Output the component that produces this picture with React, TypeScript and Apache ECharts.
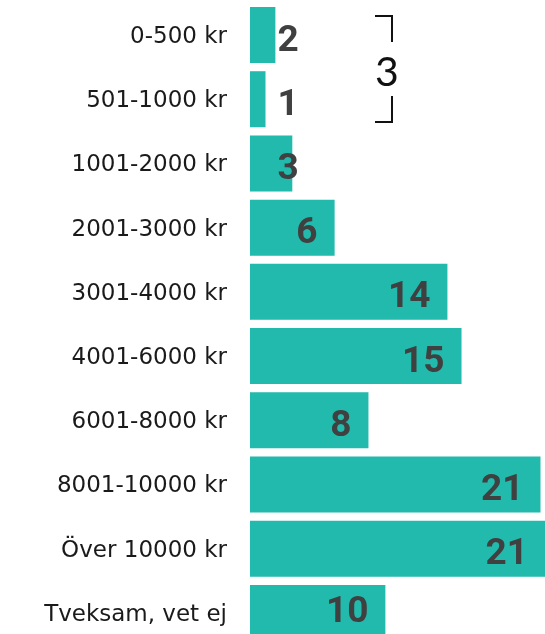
import React, { useEffect, useRef } from "react";
import * as echarts from "echarts";

const categories = [
  "0-500 kr",
  "501-1000 kr",
  "1001-2000 kr",
  "2001-3000 kr",
  "3001-4000 kr",
  "4001-6000 kr",
  "6001-8000 kr",
  "8001-10000 kr",
  "Över 10000 kr",
  "Tveksam, vet ej",
];
const values = [1.8, 1.1, 3.0, 6.0, 14.0, 15.0, 8.4, 20.6, 21.3, 9.6];
const valueLabels = ["2", "1", "3", "6", "14", "15", "8", "21", "21", "10"];
const groupLabel = "3";

const BAR = "#21BAAD";
const LABEL = "#404040";

export default function App() {
  const ref = useRef<HTMLDivElement>(null);
  useEffect(() => {
    if (!ref.current) return;
    const chart = echarts.init(ref.current, undefined, { renderer: "svg" });
    const data = values.map((v, i) => {
      const small = v < 4;
      const dy = i === values.length - 1 ? -3 : 3;
      return {
        value: v,
        label: small
          ? {
              position: [38, "50%"],
              align: "center",
              verticalAlign: "middle",
              offset: [0, dy],
            }
          : {
              position: "insideRight",
              distance: 17,
              offset: [0, dy],
            },
      };
    });
    chart.setOption({
      animation: false,
      grid: { left: 250, right: 0, top: 2.9, bottom: 0, containLabel: false },
      xAxis: {
        type: "value",
        min: 0,
        max: 20.92,
        show: false,
      },
      yAxis: {
        type: "category",
        data: categories,
        inverse: true,
        axisLine: { show: false },
        axisTick: { show: false },
        splitLine: { show: false },
        axisLabel: {
          margin: 23,
          fontFamily: "DejaVu Sans",
          fontSize: 23,
          color: "#1a1a1a",
        },
      },
      series: [
        {
          type: "bar",
          data,
          barWidth: 56,
          itemStyle: { color: BAR },
          label: {
            show: true,
            formatter: (p: any) => valueLabels[p.dataIndex],
            fontFamily: "Roboto",
            fontWeight: "bold",
            fontSize: 37,
            lineHeight: 30,
            color: LABEL,
          },
        },
      ],
      graphic: [
        {
          type: "polyline",
          shape: { points: [[375, 16], [392, 16], [392, 42]] },
          style: { stroke: "#111", lineWidth: 2, fill: "none" },
        },
        {
          type: "polyline",
          shape: { points: [[392, 96], [392, 122], [375, 122]] },
          style: { stroke: "#111", lineWidth: 2, fill: "none" },
        },
        {
          type: "text",
          x: 387,
          y: 70,
          style: {
            text: groupLabel,
            fontFamily: "Lato",
            fontSize: 41,
            fill: "#111",
            align: "center",
            verticalAlign: "middle",
          },
        },
      ],
    });
    return () => chart.dispose();
  }, []);
  return (
    <div
      ref={ref}
      style={{ position: "fixed", left: 0, top: 0, width: 545, height: 645 }}
    />
  );
}
